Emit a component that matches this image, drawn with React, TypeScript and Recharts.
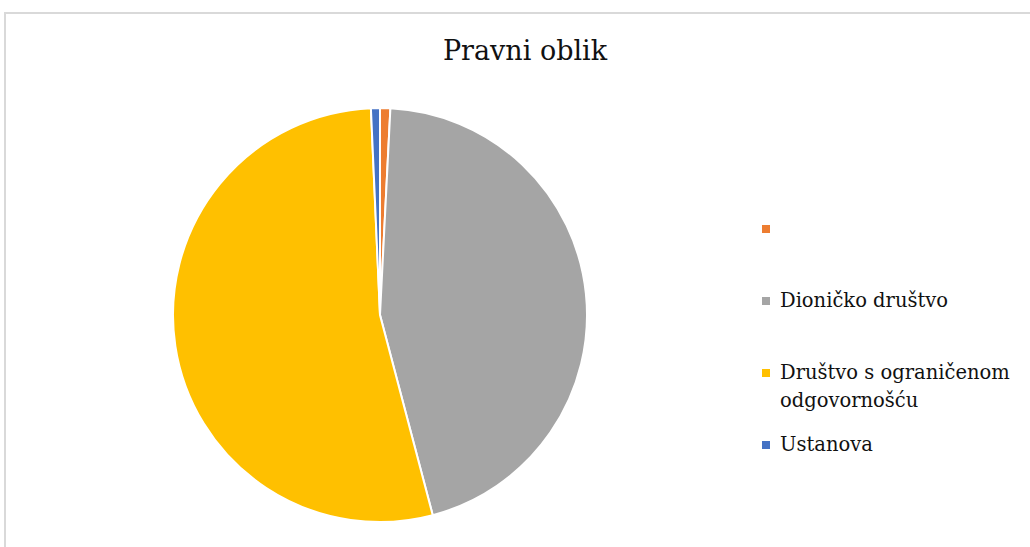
import React from "react";
import { PieChart, Pie, Cell, Legend } from "recharts";

const categories = ["", "Dioničko društvo", "Društvo s ograničenom odgovornošću", "Ustanova"];
const shares = [0.8, 45.1, 53.4, 0.7];
const colors = ["#ED7D31", "#A5A5A5", "#FFC000", "#4472C4"];

const data = categories.map((name, i) => ({ name, value: shares[i] }));

const serif = '"DejaVu Serif", serif';

const renderLegend = () => (
  <div style={{ fontFamily: serif, fontSize: 19.5, color: "#111", width: 262 }}>
    {data.map((d, i) => (
      <div key={i} style={{ height: 72, display: "flex", alignItems: "flex-start" }}>
        <span
          style={{
            display: "inline-block",
            width: 8,
            height: 8,
            background: colors[i],
            marginTop: 10,
            marginRight: 10,
            flexShrink: 0,
          }}
        />
        <span style={{ lineHeight: "28px" }}>{d.name}</span>
      </div>
    ))}
  </div>
);

export default function App() {
  return (
    <div style={{ position: "absolute", left: 0, top: 0, width: 1030, height: 547, background: "#fff", overflow: "hidden" }}>
      {/* chart border */}
      <div
        style={{
          position: "absolute",
          left: 4,
          top: 12,
          width: 1040,
          height: 560,
          borderTop: "2px solid #d9d9d9",
          borderLeft: "2px solid #d9d9d9",
        }}
      />
      <div
        style={{
          position: "absolute",
          left: 0,
          top: 35,
          width: 1050,
          textAlign: "center",
          fontFamily: serif,
          fontSize: 27,
          color: "#111",
        }}
      >
        Pravni oblik
      </div>
      <div style={{ position: "absolute", left: 0, top: 0 }}>
        <PieChart width={1030} height={547}>
          <Pie
            data={data}
            dataKey="value"
            nameKey="name"
            cx={375}
            cy={310}
            outerRadius={207}
            startAngle={90}
            endAngle={-270}
            stroke="#fff"
            strokeWidth={2}
            isAnimationActive={false}
          >
            {data.map((_, i) => (
              <Cell key={i} fill={colors[i]} />
            ))}
          </Pie>
          <Legend
            content={renderLegend}
            layout="vertical"
            wrapperStyle={{ left: 762, top: 215, width: 268 }}
          />
        </PieChart>
      </div>
    </div>
  );
}
